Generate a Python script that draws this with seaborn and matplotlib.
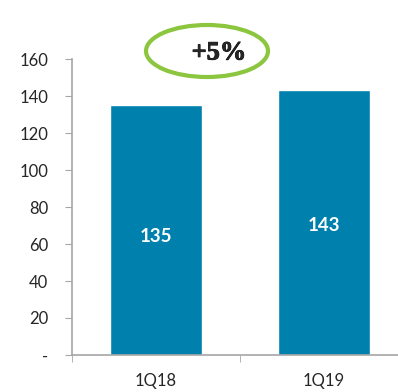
import matplotlib
matplotlib.use("Agg")
import matplotlib.pyplot as plt
from matplotlib.patches import Ellipse
import matplotlib.patheffects as pe
import seaborn as sns
import pandas as pd

categories = ["1Q18", "1Q19"]
values = [135, 143]
y_ticks = [0, 20, 40, 60, 80, 100, 120, 140, 160]
y_tick_labels = ["-", "20", "40", "60", "80", "100", "120", "140", "160"]
growth_label = "+5%"

sns.set_style("white")
plt.rcParams["font.family"] = ["Lato", "DejaVu Sans"]

df = pd.DataFrame({"cat": categories, "val": values})

fig = plt.figure(figsize=(3.98, 3.92), dpi=100)
ax = fig.add_axes([72/398, 37/392, 336/398, 296/392])
sns.barplot(data=df, x="cat", y="val", color="#0081AD", saturation=1, width=0.55, ax=ax)

ax.set_xlim(-0.5, 1.5)
ax.set_ylim(0, 160)
ax.set_yticks(y_ticks)
ax.set_yticklabels(y_tick_labels)
ax.set_xlabel("")
ax.set_ylabel("")

for s in ["top", "right"]:
    ax.spines[s].set_visible(False)
for s in ["left", "bottom"]:
    ax.spines[s].set_color("#A6A6A6")
    ax.spines[s].set_linewidth(1.2)

ax.tick_params(axis="y", length=5, color="#A6A6A6", pad=12, labelsize=12, left=True)
ax.tick_params(axis="x", which="major", length=0, pad=13, labelsize=12)
ax.set_xticks([-0.5, 0.5, 1.5], minor=True)
ax.tick_params(axis="x", which="minor", length=5, color="#A6A6A6", bottom=True)

offsets = [-3.5, -1.5]
for i, v in enumerate(values):
    ax.text(i, v / 2 + offsets[i], str(v), ha="center", va="center",
            color="white", fontsize=13.5, fontweight="bold")

fig.patches.append(Ellipse((207/398, 1 - 51/392), 122/398, 52/392,
                           transform=fig.transFigure, fill=False,
                           edgecolor="#8CC63F", linewidth=3))
fig.text(219/398, 1 - 53/392, growth_label, ha="center", va="center",
         fontsize=19, fontweight="bold", family=["Liberation Serif", "DejaVu Serif"],
         path_effects=[pe.withStroke(linewidth=0.6, foreground="black")])

fig.savefig("out.png", dpi=100)
